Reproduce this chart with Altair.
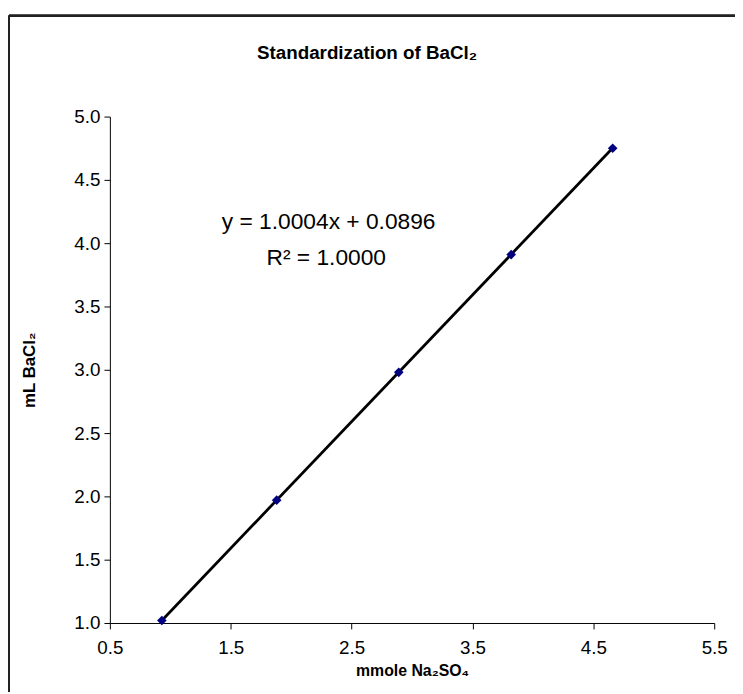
import altair as alt
import pandas as pd

# Values
x_vals = [0.93, 1.88, 2.89, 3.82, 4.66]
y_vals = [1.02, 1.97, 2.98, 3.91, 4.75]
slope = 1.0004
intercept = 0.0896
eq_text = ["y = 1.0004x + 0.0896", "R² = 1.0000"]
eq_x = [2.31, 2.29]
eq_y = [4.17, 3.88]
x_ticks = [0.5, 1.5, 2.5, 3.5, 4.5, 5.5]
y_ticks = [1.0, 1.5, 2.0, 2.5, 3.0, 3.5, 4.0, 4.5, 5.0]
chart_title = ["Standardization of BaCl₂"]

pts = pd.DataFrame({"x": x_vals, "y": y_vals})
trend = pd.DataFrame({"x": [min(x_vals), max(x_vals)]})
trend["y"] = slope * trend["x"] + intercept
eq = pd.DataFrame({"t": eq_text, "x": eq_x, "y": eq_y})
ttl = pd.DataFrame({"t": chart_title})

FONT = "Liberation Sans"
W, H = 611, 512
PL, PT = 103, 106

xs = alt.Scale(domain=[0.5, 5.5], nice=False, zero=False)
ys = alt.Scale(domain=[1.0, 5.0], nice=False, zero=False)

xaxis = alt.Axis(values=x_ticks, format=".1f", grid=False, domainColor="black",
                 tickColor="black", tickSize=6, labelFontSize=19, labelFont=FONT,
                 labelColor="black", labelPadding=10, labelFlush=False,
                 title="mmole Na₂SO₄",
                 titleFont=FONT, titleFontSize=16, titleFontWeight="bold",
                 titleColor="black", titlePadding=5)
yaxis = alt.Axis(values=y_ticks, format=".1f", grid=False, domainColor="black",
                 tickColor="black", tickSize=6, labelFontSize=19, labelFont=FONT,
                 labelColor="black", labelPadding=4, labelFlush=False,
                 title="mL BaCl₂",
                 titleFont=FONT, titleFontSize=17, titleFontWeight="bold",
                 titleColor="black", titlePadding=36)

line = alt.Chart(trend).mark_line(color="black", strokeWidth=2.8).encode(
    x=alt.X("x:Q", scale=xs, axis=xaxis),
    y=alt.Y("y:Q", scale=ys, axis=yaxis),
)
points = alt.Chart(pts).mark_point(shape="diamond", filled=True, color="#000080",
                                   size=95, opacity=1).encode(
    x=alt.X("x:Q", scale=xs), y=alt.Y("y:Q", scale=ys))
text = alt.Chart(eq).mark_text(font=FONT, fontSize=23, color="black").encode(
    x=alt.X("x:Q", scale=xs), y=alt.Y("y:Q", scale=ys), text="t:N")
title = alt.Chart(ttl).mark_text(font=FONT, fontSize=19, fontWeight="bold",
                                 color="black").encode(
    x=alt.value(371 - 8 - PL), y=alt.value(50 - 8 - PT), text="t:N")

frame_top = alt.Chart(pts).mark_rule(color="#222", strokeWidth=2).encode(
    x=alt.value(-PL + 1), x2=alt.value(W + 40), y=alt.value(12 - 8 - PT))
frame_left = alt.Chart(pts).mark_rule(color="#222", strokeWidth=2).encode(
    x=alt.value(-PL + 1), y=alt.value(12 - 8 - PT), y2=alt.value(H + 120))

chart = alt.layer(frame_top, frame_left, title, line, points, text).properties(
    width=W, height=H,
    padding={"left": PL, "top": PT, "right": 21, "bottom": 66},
    autosize=alt.AutoSizeParams(type="none"),
).configure_view(stroke=None)

chart.save("out.html", embed_options={"renderer": "svg", "actions": False})
